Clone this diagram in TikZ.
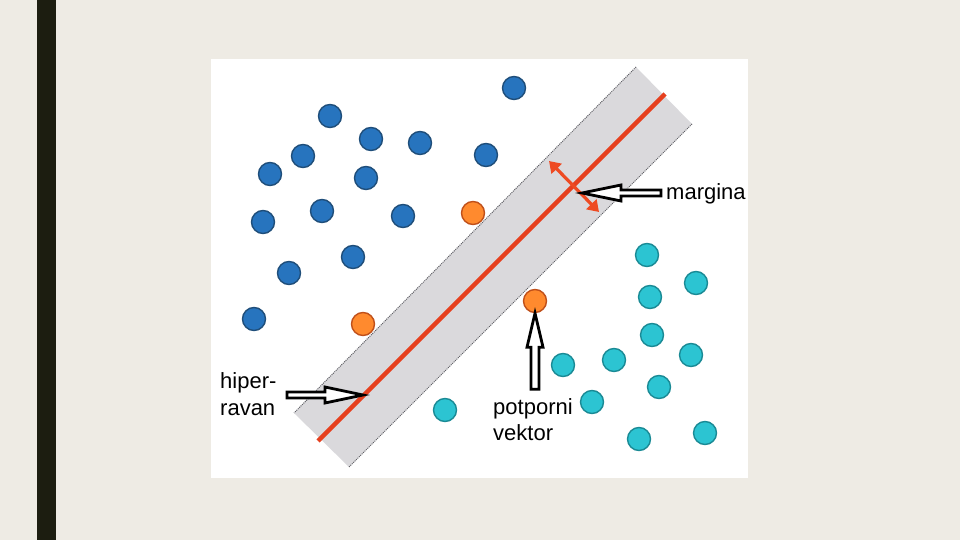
\documentclass[tikz,border=0pt]{standalone}
\usepackage{fontspec}
\setmainfont{Liberation Sans}
\usetikzlibrary{arrows.meta,calc}
\definecolor{bg}{HTML}{EEEBE4}
\definecolor{barc}{HTML}{1C1D10}
\definecolor{bandc}{HTML}{DAD9DC}
\definecolor{bandedge}{HTML}{606066}
\definecolor{redl}{HTML}{E6401E}
\definecolor{redm}{HTML}{EE4A22}
\definecolor{bluef}{HTML}{2774BE}
\definecolor{blued}{HTML}{1F4E7A}
\definecolor{oranf}{HTML}{FF8A2E}
\definecolor{orand}{HTML}{C0501A}
\definecolor{cyanf}{HTML}{2CC4D2}
\definecolor{cyand}{HTML}{1A8A95}
\tikzset{
  dotbase/.style={circle, minimum size=23pt, inner sep=0pt, line width=1.4pt},
  bdot/.style={dotbase, fill=bluef, draw=blued},
  odot/.style={dotbase, fill=oranf, draw=orand},
  cdot/.style={dotbase, fill=cyanf, draw=cyand},
  hollow/.style={draw=black, line width=2.8pt, fill=white, line join=miter},
  lbl/.style={font=\fontsize{22}{27}\selectfont, inner sep=0pt, anchor=base west, text=black},
  bandline/.style={bandedge, line width=1pt, densely dotted}
}
\begin{document}
\begin{tikzpicture}[x=1pt,y=-1pt]
\useasboundingbox (0,0) rectangle (960,540);
\fill[bg] (0,0) rectangle (960,540);
\fill[barc] (37,0) rectangle (56,540);
\fill[white] (211,59) rectangle (748,478);
% margin band
\coordinate (tl) at (636,67);
\coordinate (tr) at (692,124);
\coordinate (br) at (349,467);
\coordinate (bl) at (294,413);
\fill[bandc] (tl) -- (tr) -- (br) -- (bl) -- cycle;
\draw[bandline] (tl) -- (bl);
\draw[bandline] (tr) -- (br);
% hyperplane
\coordinate (r1) at (318,441);
\coordinate (r2) at (665,94);
\draw[redl, line width=4.5pt] (r1) -- (r2);
% margin double arrow
\coordinate (m1) at (549,161);
\coordinate (m2) at (599,212);
\draw[redm, line width=3.2pt, {Triangle[length=11pt,width=14pt]}-{Triangle[length=11pt,width=14pt]}] (m1) -- (m2);
% blue dots
\node[bdot] (b1) at (514,88) {};
\node[bdot] (b2) at (330,116) {};
\node[bdot] (b3) at (371,139) {};
\node[bdot] (b4) at (420,143) {};
\node[bdot] (b5) at (303,156) {};
\node[bdot] (b6) at (486,155) {};
\node[bdot] (b7) at (270,174) {};
\node[bdot] (b8) at (366,178) {};
\node[bdot] (b9) at (322,211) {};
\node[bdot] (b10) at (403,216) {};
\node[bdot] (b11) at (263,222) {};
\node[bdot] (b12) at (353,257) {};
\node[bdot] (b13) at (289,273) {};
\node[bdot] (b14) at (254,319) {};
% orange support vectors
\node[odot] (o1) at (473,213) {};
\node[odot] (o2) at (363,324) {};
\node[odot] (o3) at (535,301) {};
% cyan dots
\node[cdot] (c1) at (647,255) {};
\node[cdot] (c2) at (696,283) {};
\node[cdot] (c3) at (650,297) {};
\node[cdot] (c4) at (652,335) {};
\node[cdot] (c5) at (691,355) {};
\node[cdot] (c6) at (614,360) {};
\node[cdot] (c7) at (563,365) {};
\node[cdot] (c8) at (659,387) {};
\node[cdot] (c9) at (592,402) {};
\node[cdot] (c10) at (445,410) {};
\node[cdot] (c11) at (705,433) {};
\node[cdot] (c12) at (639,439) {};
% labels
\node[lbl] (lm) at (666,199) {margina};
\node[lbl] (lh1) at (220,388) {hiper-};
\node[lbl] (lh2) at (220,415) {ravan};
\node[lbl] (lp1) at (493,414) {potporni};
\node[lbl] (lp2) at (493,440) {vektor};
% hollow arrows
\coordinate (mtip) at (582,193);
\draw[hollow] (mtip) -- ++(39,-8) -- ++(0,5) -- ++(40,0) -- ++(0,6) -- ++(-40,0) -- ++(0,5) -- cycle;
\coordinate (htip) at (363,395);
\draw[hollow] (htip) -- ++(-38,-8) -- ++(0,5) -- ++(-38,0) -- ++(0,6) -- ++(38,0) -- ++(0,5) -- cycle;
\draw[hollow] (o3.south) -- ++(-8,34) -- ++(4,0) -- ++(0,42) -- ++(8,0) -- ++(0,-42) -- ++(4,0) -- cycle;
\end{tikzpicture}
\end{document}
